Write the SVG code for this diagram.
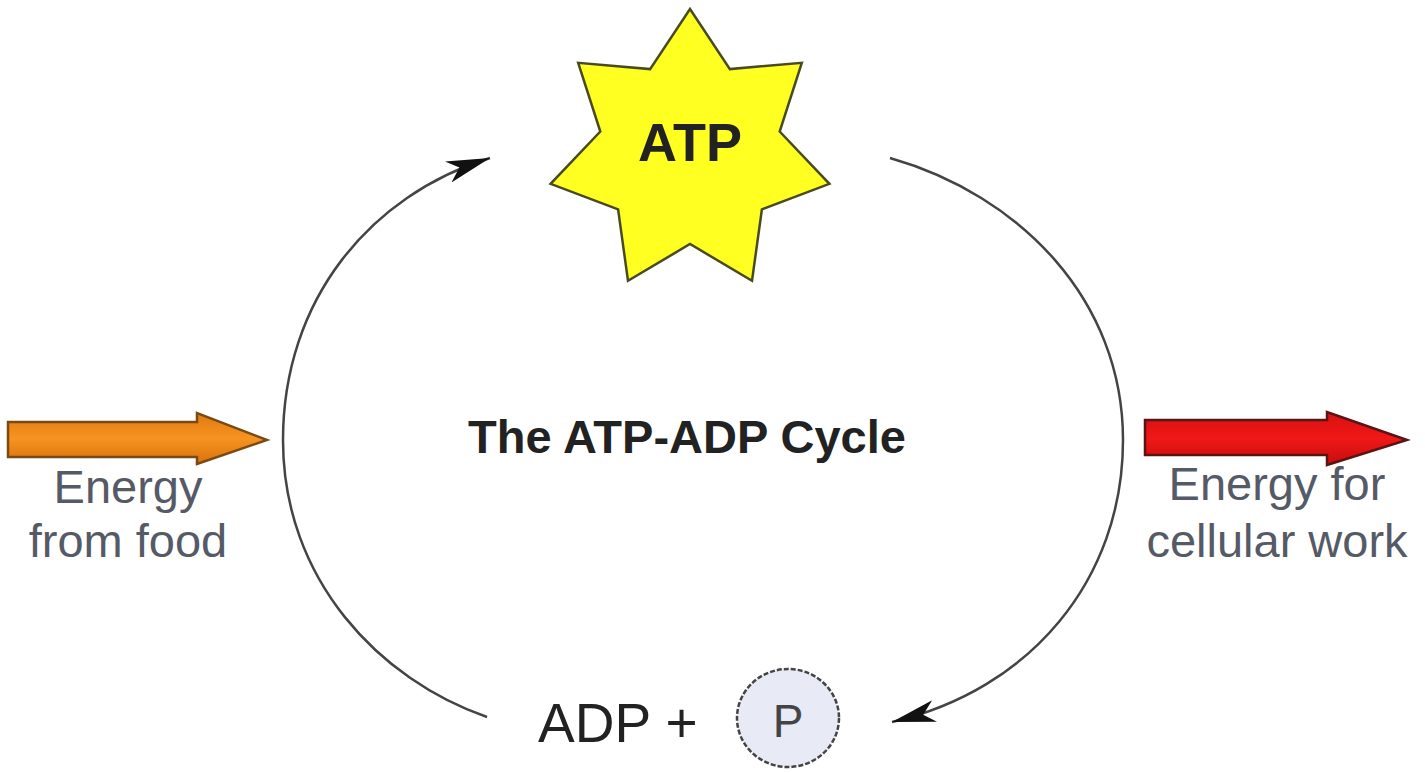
<svg xmlns="http://www.w3.org/2000/svg" width="1425" height="773" viewBox="0 0 1425 773">
<defs>
<style>
.lbl{font-family:"Liberation Sans",Arial,sans-serif;fill:#555a66;font-size:47px;text-anchor:middle}
.bold{font-family:"Liberation Sans",Arial,sans-serif;font-weight:bold;fill:#222;text-anchor:middle}
.conn{fill:none;stroke:#444;stroke-width:2.5}
</style>
<marker id="ah" markerUnits="userSpaceOnUse" markerWidth="50" markerHeight="30" refX="44" refY="12" orient="auto">
<path d="M0,2 L44,12 L0,24 L12,12 Z" fill="#111"/>
</marker>
<linearGradient id="og" x1="0" y1="0" x2="0" y2="1">
<stop offset="0" stop-color="#e07a10"/><stop offset="0.5" stop-color="#f79320"/><stop offset="1" stop-color="#d8720c"/>
</linearGradient>
<linearGradient id="rg" x1="0" y1="0" x2="0" y2="1">
<stop offset="0" stop-color="#d81010"/><stop offset="0.5" stop-color="#f01818"/><stop offset="1" stop-color="#c80c0c"/>
</linearGradient>
</defs>
<rect width="1425" height="773" fill="#ffffff"/>
<g id="connectors">
<path class="conn" d="M487,717 C380,680 283,580 283,440 C283,300 370,195 490,158" marker-end="url(#ah)"/>
<path class="conn" d="M890,158 C1020,195 1123,300 1123,440 C1123,580 1030,690 892,722" marker-end="url(#ah)"/>
</g>
<g id="atp">
<polygon points="690,9 729.9,69.1 801.8,62.8 779.7,131.5 829.4,183.8 761.9,209.4 752,280.8 690,244 628,280.8 618.1,209.4 550.6,183.8 600.3,131.5 578.2,62.8 650.1,69.1" fill="#ffff22" stroke="#4a4a20" stroke-width="2.5" stroke-linejoin="miter"/>
<text class="bold" x="690" y="161" font-size="54">ATP</text>
</g>
<g id="title">
<text class="bold" x="687" y="453" font-size="47">The ATP-ADP Cycle</text>
</g>
<g id="energy-in">
<polygon points="8,422 197,422 197,413 267,440 197,464 197,457 8,457" fill="url(#og)" stroke="#7a4a14" stroke-width="2.5"/>
<text class="lbl" x="128" y="503">Energy</text>
<text class="lbl" x="128" y="557">from food</text>
</g>
<g id="energy-out">
<polygon points="1145,420 1327,420 1327,412 1407,440 1327,465 1327,455 1145,455" fill="url(#rg)" stroke="#5a1414" stroke-width="2.5"/>
<text class="lbl" x="1277" y="500">Energy for</text>
<text class="lbl" x="1277" y="557">cellular work</text>
</g>
<g id="adp">
<text x="538" y="742" font-family="'Liberation Sans',Arial,sans-serif" font-size="55" fill="#222">ADP +</text>
<ellipse cx="788" cy="718" rx="51" ry="49" fill="#e8eaf6" stroke="#444" stroke-width="2.5" stroke-dasharray="5 2"/>
<text x="788" y="737" font-family="'Liberation Sans',Arial,sans-serif" font-size="46" fill="#444" text-anchor="middle">P</text>
</g>
</svg>
